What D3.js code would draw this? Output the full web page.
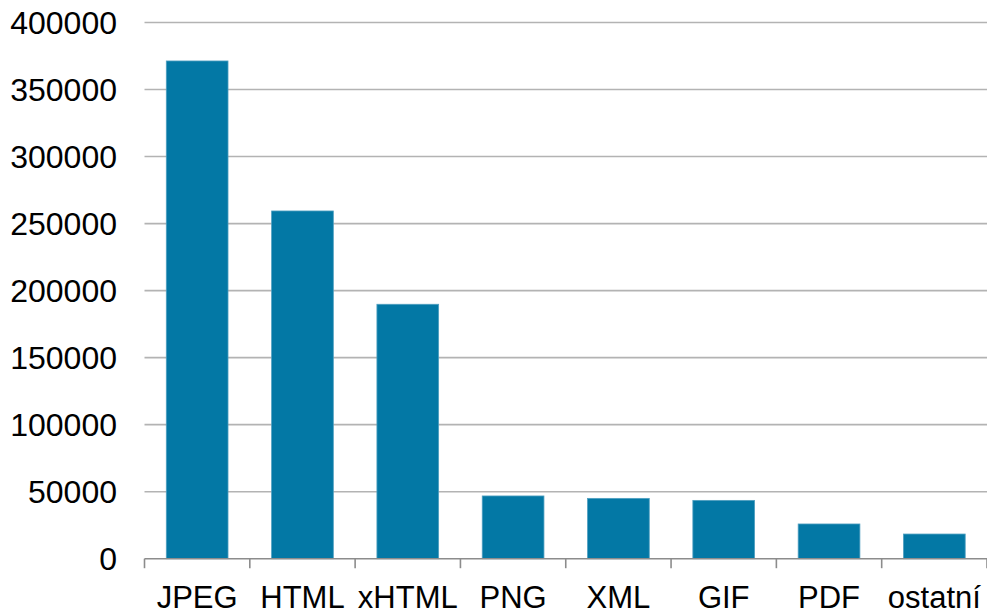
<!DOCTYPE html>
<html>
<head>
  <meta charset="utf-8">
  <script src="https://d3js.org/d3.v7.min.js"></script>
  <style>
  body { margin: 0; background: #fff; }
  text { font-family: "Liberation Sans", Arial, sans-serif; fill: #000; }
  </style>
</head>
<body>
  <script>
  var w = 987;
  var h = 614;

  //Chart data
  var categories = ["JPEG", "HTML", "xHTML", "PNG", "XML", "GIF", "PDF", "ostatní"];
  var counts = [371300, 259400, 189800, 46800, 45000, 43500, 25900, 18400];
  var yTicks = [0, 50000, 100000, 150000, 200000, 250000, 300000, 350000, 400000];

  var margin = {top: 22.5, right: 0, bottom: 55.3, left: 144.5};

  var svg = d3.select("body")
    .append("svg")
    .attr("width", w)
    .attr("height", h);

  var x = d3.scaleBand()
    .domain(categories)
    .range([margin.left, w - margin.right])
    .paddingInner(0.414)
    .paddingOuter(0.207);

  //Band positions for the tick marks (no padding)
  var xTick = d3.scaleBand()
    .domain(categories)
    .range([margin.left, w - margin.right]);

  var y = d3.scaleLinear()
    .domain([0, 400000])
    .range([h - margin.bottom, margin.top]);

  //Gridlines
  svg.append("g")
    .selectAll("line")
    .data(yTicks.filter(function(d){ return d > 0; }))
    .enter()
    .append("line")
      .attr("x1", margin.left)
      .attr("x2", w)
      .attr("y1", function(d){ return y(d); })
      .attr("y2", function(d){ return y(d); })
      .style("stroke", "#b3b3b3")
      .style("stroke-width", "1.6px");

  //Y labels
  svg.append("g")
    .selectAll("text")
    .data(yTicks)
    .enter()
    .append("text")
      .attr("x", 117)
      .attr("y", function(d){ return y(d); })
      .attr("dy", "0.35em")
      .attr("text-anchor", "end")
      .style("font-size", "32px")
      .text(function(d){ return d; });

  //Bars
  svg.append("g")
    .selectAll("rect")
    .data(counts)
    .enter()
    .append("rect")
      .attr("x", function(d, i){ return x(categories[i]); })
      .attr("y", function(d){ return y(d); })
      .attr("width", x.bandwidth())
      .attr("height", function(d){ return y(0) - y(d); })
      .attr("fill", "#0378a5")
      .style("stroke", "#4f9fc0")
      .style("stroke-width", "0.8px");

  //X axis line and ticks
  var base = y(0);
  svg.append("line")
    .attr("x1", margin.left)
    .attr("x2", w)
    .attr("y1", base)
    .attr("y2", base)
    .style("stroke", "#8c8c8c")
    .style("stroke-width", "1.6px");

  svg.append("g")
    .selectAll("line")
    .data(categories.concat(["end"]))
    .enter()
    .append("line")
      .attr("x1", function(d, i){ return margin.left + i * xTick.bandwidth(); })
      .attr("x2", function(d, i){ return margin.left + i * xTick.bandwidth(); })
      .attr("y1", base)
      .attr("y2", base + 9.5)
      .style("stroke", "#8c8c8c")
      .style("stroke-width", "1.6px");

  //X labels
  svg.append("g")
    .selectAll("text")
    .data(categories)
    .enter()
    .append("text")
      .attr("x", function(d){ return x(d) + x.bandwidth() / 2; })
      .attr("y", 608)
      .attr("text-anchor", "middle")
      .style("font-size", "31px")
      .text(function(d){ return d; });
  </script>
</body>
</html>
